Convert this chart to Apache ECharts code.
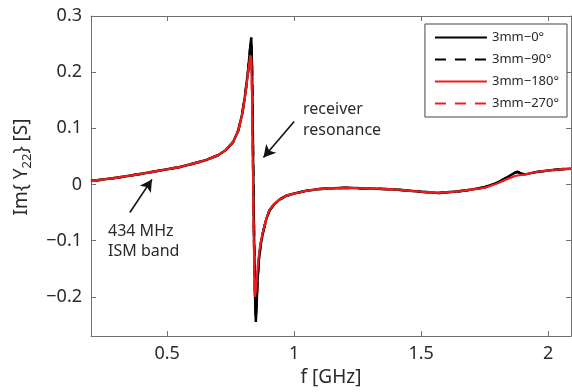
<!DOCTYPE html>
<html>
<head>
<meta charset="utf-8">
<script src="https://cdn.jsdelivr.net/npm/echarts@6/dist/echarts.min.js"></script>
<style>
html,body{margin:0;padding:0;background:#fff;}
#c{width:572px;height:392px;}
</style>
</head>
<body>
<div id="c"></div>
<script>
// Frequencies in GHz (shared by all four traces)
var freq = [0.2,0.3,0.4,0.45,0.5,0.55,0.6,0.65,0.7,0.73,0.76,0.78,0.795,0.805,0.812,0.818,0.823,0.827,0.831,0.834,0.837,0.840,0.843,0.846,0.849,0.852,0.856,0.861,0.868,0.877,0.89,0.903,0.92,0.942,0.97,1.0,1.05,1.1,1.2,1.3,1.4,1.5,1.57,1.65,1.7,1.75,1.8,1.84,1.87,1.88,1.895,1.91,1.95,2.0,2.05,2.09];
// Im{Y22} [S]
var y0 = [0.006,0.012,0.019,0.023,0.027,0.031,0.037,0.043,0.052,0.061,0.076,0.096,0.125,0.153,0.178,0.2,0.225,0.245,0.262,0.21,0.1,-0.02,-0.12,-0.2,-0.245,-0.215,-0.17,-0.135,-0.108,-0.086,-0.062,-0.046,-0.036,-0.027,-0.02,-0.016,-0.011,-0.008,-0.006,-0.007,-0.009,-0.013,-0.015,-0.012,-0.009,-0.005,0.003,0.013,0.021,0.023,0.019,0.018,0.022,0.025,0.027,0.028];
var y90 = [0.006,0.012,0.019,0.023,0.027,0.031,0.037,0.043,0.052,0.061,0.076,0.096,0.125,0.153,0.178,0.2,0.225,0.243,0.258,0.205,0.095,-0.025,-0.125,-0.2,-0.24,-0.21,-0.168,-0.134,-0.107,-0.086,-0.062,-0.046,-0.036,-0.027,-0.02,-0.016,-0.011,-0.008,-0.006,-0.007,-0.009,-0.013,-0.015,-0.012,-0.009,-0.005,0.003,0.013,0.021,0.022,0.019,0.018,0.022,0.025,0.027,0.028];
var y180 = [0.006,0.012,0.019,0.023,0.027,0.031,0.037,0.043,0.052,0.061,0.076,0.096,0.124,0.151,0.175,0.197,0.217,0.23,0.226,0.15,0.04,-0.07,-0.16,-0.2,-0.19,-0.17,-0.15,-0.125,-0.103,-0.084,-0.061,-0.045,-0.035,-0.027,-0.02,-0.016,-0.011,-0.008,-0.006,-0.007,-0.009,-0.013,-0.015,-0.012,-0.009,-0.006,0.002,0.01,0.015,0.016,0.017,0.018,0.022,0.025,0.027,0.028];
var y270 = [0.006,0.012,0.019,0.023,0.027,0.031,0.037,0.043,0.052,0.061,0.076,0.096,0.124,0.151,0.175,0.196,0.215,0.227,0.222,0.145,0.035,-0.075,-0.16,-0.195,-0.187,-0.168,-0.148,-0.124,-0.103,-0.084,-0.061,-0.045,-0.035,-0.027,-0.02,-0.016,-0.011,-0.008,-0.006,-0.007,-0.009,-0.013,-0.015,-0.012,-0.009,-0.006,0.002,0.01,0.015,0.016,0.017,0.018,0.022,0.025,0.027,0.028];
var seriesNames = ['3mm\u22120\u00b0','3mm\u221290\u00b0','3mm\u2212180\u00b0','3mm\u2212270\u00b0'];
var xTicks = [0.5,1,1.5,2];
var yTicks = [-0.2,-0.1,0,0.1,0.2,0.3];
// annotation arrows in data coordinates [from, to]
var arrowReceiver = [[1.0,0.112],[0.879,0.048]];
var arrowISM = [[0.353,-0.05],[0.44,0.009]];

function pairs(ys){ return freq.map(function(f,i){ return [f, ys[i]]; }); }
var FONT = 'Noto Sans';
var TXT = '#2a2a2a';
var AX = '#707070';
function fmt(v){ return String(v).replace('-', '\u2212'); }

var chart = echarts.init(document.getElementById('c'), null, {renderer:'canvas'});
chart.setOption({
  animation:false,
  backgroundColor:'#fff',
  grid:{left:91, right:1, top:16, bottom:55},
  legend:{
    orient:'vertical', right:5, top:24,
    itemWidth:52, itemHeight:14, itemGap:9,
    padding:[7,8,7,9],
    borderColor:'#444', borderWidth:1, backgroundColor:'#fff',
    itemStyle:{opacity:0},
    textStyle:{fontFamily:FONT, fontSize:13, color:TXT},
    data:seriesNames
  },
  xAxis:[{
    type:'value', min:0.2, max:2.09, position:'bottom',
    name:'f [GHz]', nameLocation:'middle', nameGap:27,
    nameTextStyle:{fontFamily:FONT, fontSize:19, color:TXT},
    axisLine:{onZero:false, lineStyle:{color:AX, width:1}},
    axisTick:{inside:true, length:5, customValues:xTicks, lineStyle:{color:AX}},
    axisLabel:{customValues:xTicks, formatter:fmt, fontFamily:FONT, fontSize:18, color:TXT, margin:9},
    splitLine:{show:false}
  },{
    type:'value', min:0.2, max:2.09, position:'top',
    axisLine:{show:true, onZero:false, lineStyle:{color:AX, width:1}},
    axisTick:{inside:true, length:5, customValues:xTicks, lineStyle:{color:AX}},
    axisLabel:{show:false}, splitLine:{show:false}
  }],
  yAxis:[{
    type:'value', min:-0.27, max:0.3, position:'left',
    axisLine:{show:true, onZero:false, lineStyle:{color:AX, width:1}},
    axisTick:{show:true, inside:true, length:5, customValues:yTicks, lineStyle:{color:AX}},
    axisLabel:{customValues:yTicks, formatter:fmt, fontFamily:FONT, fontSize:18, color:TXT, margin:9},
    splitLine:{show:false}
  },{
    type:'value', min:-0.27, max:0.3, position:'right',
    axisLine:{show:true, onZero:false, lineStyle:{color:AX, width:1}},
    axisTick:{show:true, inside:true, length:5, customValues:yTicks, lineStyle:{color:AX}},
    axisLabel:{show:false}, splitLine:{show:false}
  }],
  series:[
    {name:seriesNames[0], type:'line', data:pairs(y0), symbol:'none', color:'#000',
     lineStyle:{color:'#000', width:2.5, type:'solid'}},
    {name:seriesNames[1], type:'line', data:pairs(y90), symbol:'none', color:'#000',
     lineStyle:{color:'#000', width:2.5, type:[11,9]}},
    {name:seriesNames[2], type:'line', data:pairs(y180), symbol:'none', color:'#f01c1c',
     lineStyle:{color:'#f01c1c', width:2, type:'solid'}},
    {name:seriesNames[3], type:'line', data:pairs(y270), symbol:'none', color:'#f01c1c',
     lineStyle:{color:'#f01c1c', width:2, type:[11,9]},
     markLine:{
       silent:true, animation:false,
       symbol:['none','arrow'], symbolSize:[10,12],
       label:{show:false},
       lineStyle:{color:'#111', width:1.6, type:'solid'},
       emphasis:{disabled:true},
       data:[
         [{coord:arrowReceiver[0]},{coord:arrowReceiver[1]}],
         [{coord:arrowISM[0]},{coord:arrowISM[1]}]
       ]
     }}
  ],
  graphic:[
    {type:'text', left:303, top:99, silent:true,
     style:{text:'receiver\nresonance', fontFamily:FONT, fontSize:16, lineHeight:21, fill:TXT}},
    {type:'text', left:108, top:221, silent:true,
     style:{text:'434 MHz\nISM band', fontFamily:FONT, fontSize:16, lineHeight:20, fill:TXT}},
    {type:'text', x:22, y:167, rotation:Math.PI/2, silent:true,
     style:{text:'Im{ Y{s|22}} [S]', align:'center', verticalAlign:'middle',
       fontFamily:FONT, fontSize:19, fill:TXT, lineHeight:24,
       rich:{
         s:{fontFamily:FONT, fontSize:13, fill:TXT, lineHeight:16, verticalAlign:'bottom', padding:[12,0,0,0]}
       }}}
  ]
});
</script>
</body>
</html>
